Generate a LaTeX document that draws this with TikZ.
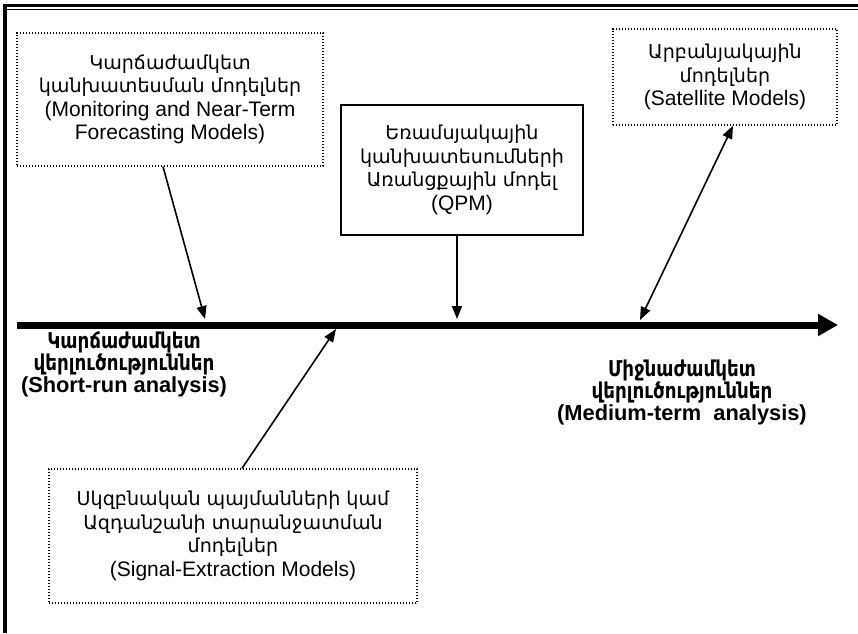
\documentclass[tikz,border=0pt]{standalone}
\usepackage{fontspec}
\setmainfont{Liberation Sans}
\newfontfamily\arm[Scale=0.91]{DejaVu Sans}
\newfontfamily\armb[FakeStretch=0.84]{DejaVu Sans}
\usetikzlibrary{arrows.meta}
\begin{document}
\begin{tikzpicture}[x=1pt,y=-1pt,
  dotbox/.style={draw, line width=1.3pt, dash pattern=on 1.3pt off 1.7pt, align=center, inner sep=0pt},
  solidbox/.style={draw, line width=2pt, align=center, inner sep=0pt},
  txt/.style={font={\fontsize{21}{23.5}\selectfont\lineskiplimit=-30pt}},
  btxt/.style={font={\fontsize{21.8}{22}\selectfont\bfseries\lineskiplimit=-30pt}, align=center},
  conn/.style={line width=1.6pt, -{Triangle[length=13pt,width=10pt]}},
  bconn/.style={line width=1.6pt, {Triangle[length=13pt,width=10pt]}-{Triangle[length=13pt,width=10pt]}},
  mainarrow/.style={line width=7pt, -{Triangle[length=20pt,width=21pt]}}]
\useasboundingbox (0,0) rectangle (858,633);
% page border
\coordinate (f1) at (3,5.5);
\coordinate (f2) at (858,5.5);
\coordinate (g1) at (6,9.5);
\coordinate (g2) at (858,9.5);
\coordinate (h1) at (4.8,4);
\coordinate (h2) at (4.8,633);
\draw[line width=3pt] (f1) -- (f2);
\draw[line width=1pt] (g1) -- (g2);
\draw[line width=3.6pt] (h1) -- (h2);
% boxes
\node[dotbox, txt, minimum width=306pt, minimum height=133pt] (mon) at (170,99.5)
  {{\arm Կարճաժամկետ}\\ {\arm կանխատեսման մոդելներ}\\ (Monitoring and Near-Term\\ Forecasting Models)};
\node[solidbox, txt, minimum width=242pt, minimum height=130pt] (qpm) at (462,170)
  {{\arm Եռամսյակային}\\ {\arm կանխատեսումների}\\ {\arm Առանցքային մոդել}\\ (QPM)};
\node[dotbox, txt, minimum width=224pt, minimum height=96pt] (sat) at (725,77)
  {{\arm Արբանյակային}\\ {\arm մոդելներ}\\ (Satellite Models)};
\node[dotbox, txt, minimum width=368pt, minimum height=134pt] (sig) at (233,536)
  {{\arm Սկզբնական պայմանների կամ}\\ {\arm Ազդանշանի տարանջատման}\\ {\arm մոդելներ}\\ (Signal-Extraction Models)};
% labels
\node[btxt] (short) at (124,364)
  {{\armb\bfseries Կարճաժամկետ}\\ {\armb\bfseries վերլուծություններ}\\ (Short-run analysis)};
\node[btxt] (medium) at (682,392)
  {{\armb\bfseries Միջնաժամկետ}\\ {\armb\bfseries վերլուծություններ}\\ (Medium-term\ \ analysis)};
% main arrow
\coordinate (ms) at (17,325);
\coordinate (me) at (838,325);
\draw[mainarrow] (ms) -- (me);
% connectors
\coordinate (t1) at (205,319);
\coordinate (t2) at (457,319);
\coordinate (t3) at (640,320);
\coordinate (t4) at (336,329);
\draw[conn] ([xshift=-7pt]mon.south) -- (t1);
\draw[conn] ([xshift=-5pt]qpm.south) -- (t2);
\draw[bconn] (t3) -- ([xshift=8pt]sat.south);
\draw[conn] ([xshift=9pt]sig.north) -- (t4);
\end{tikzpicture}
\end{document}
